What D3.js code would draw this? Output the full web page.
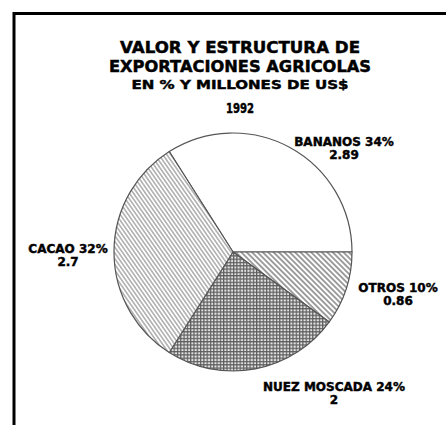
<!DOCTYPE html>
<html>

<head>
    <meta charset="utf-8">
    <script src="https://d3js.org/d3.v7.min.js"></script>
    <style>
        body {
            margin: 0;
            background: #fff;
            overflow: hidden;
        }

        svg text {
            font-family: "DejaVu Sans", sans-serif;
            font-weight: bold;
            fill: #000;
            stroke: #000;
            stroke-width: 0.45px;
        }
    </style>
</head>

<body>
    <div id="chart"></div>
    <script>
        // data
        var titleLines = ["VALOR Y ESTRUCTURA DE", "EXPORTACIONES AGRICOLAS", "EN % Y MILLONES DE US$", "1992"];
        var categories = ["BANANOS", "OTROS", "NUEZ MOSCADA", "CACAO"];
        var shares = [34, 10, 24, 32];
        var values = ["2.89", "0.86", "2", "2.7"];

        var width = 447;
        var height = 425;
        var cx = 233, cy = 252, radius = 119;

        // title layout: baseline, font size, width
        var titleStyle = [
            { y: 53, size: 15, len: 240 },
            { y: 72, size: 15, len: 262 },
            { y: 89, size: 12.5, len: 217 },
            { y: 113, size: 14, len: 28 }
        ];

        // label anchors (relative to the pie centre)
        var labelPos = [
            { dx: 111, dy: -106 },
            { dx: 165, dy: 40 },
            { dx: 101, dy: 139 },
            { dx: -165, dy: 1 }
        ];

        var fills = ["#fff", "url(#hatchOtros)", "url(#gridNuez)", "url(#hatchCacao)"];

        var svg = d3.select("#chart").append("svg")
            .attr("width", width)
            .attr("height", height);

        var defs = svg.append("defs");

        function hatch(id, gap, angle, color, sw) {
            var p = defs.append("pattern")
                .attr("id", id)
                .attr("patternUnits", "userSpaceOnUse")
                .attr("width", gap)
                .attr("height", gap)
                .attr("patternTransform", "rotate(" + angle + ")");
            p.append("rect").attr("width", gap).attr("height", gap).attr("fill", "#fff");
            p.append("line")
                .attr("x1", gap / 2).attr("y1", 0)
                .attr("x2", gap / 2).attr("y2", gap)
                .attr("stroke", color)
                .attr("stroke-width", sw);
        }

        hatch("hatchOtros", 3.8, -45, "#888", 1.6);
        hatch("hatchCacao", 3.3, -35, "#a6a6a6", 1.4);

        var grid = defs.append("pattern")
            .attr("id", "gridNuez")
            .attr("patternUnits", "userSpaceOnUse")
            .attr("width", 3.3)
            .attr("height", 3.3);
        grid.append("rect").attr("width", 3.3).attr("height", 3.3).attr("fill", "#e4e4e4");
        grid.append("path")
            .attr("d", "M0,0.6H3.3M0.6,0V3.3")
            .attr("stroke", "#5e5e5e")
            .attr("stroke-width", 1.2);

        // frame (top and left only)
        svg.append("path")
            .attr("d", "M14,425V13.5H446")
            .attr("fill", "none")
            .attr("stroke", "#000")
            .attr("stroke-width", 3);

        // title
        svg.append("g").selectAll("text")
            .data(titleLines)
            .join("text")
            .attr("x", 240)
            .attr("y", (d, i) => titleStyle[i].y)
            .attr("text-anchor", "middle")
            .attr("font-size", (d, i) => titleStyle[i].size)
            .attr("textLength", (d, i) => titleStyle[i].len)
            .attr("lengthAdjust", "spacingAndGlyphs")
            .text(d => d);

        // pie, Bananos ends at 3 o'clock
        var startA = -shares[0] / 100 * Math.PI * 2 + Math.PI / 2;
        var pie = d3.pie()
            .sort(null)
            .startAngle(startA)
            .endAngle(startA + Math.PI * 2);

        var arc = d3.arc().innerRadius(0).outerRadius(radius);

        var g = svg.append("g").attr("transform", `translate(${cx},${cy})`);

        g.selectAll("path")
            .data(pie(shares))
            .join("path")
            .attr("d", arc)
            .attr("fill", (d, i) => fills[i])
            .attr("stroke", "#555")
            .attr("stroke-width", 1.2)
            .attr("stroke-linejoin", "round");

        // labels
        var labels = g.append("g").selectAll("text")
            .data(categories)
            .join("text")
            .attr("text-anchor", "middle")
            .attr("font-size", 12);

        labels.append("tspan")
            .attr("x", (d, i) => labelPos[i].dx)
            .attr("y", (d, i) => labelPos[i].dy)
            .text((d, i) => d + " " + shares[i] + "%");

        labels.append("tspan")
            .attr("x", (d, i) => labelPos[i].dx)
            .attr("dy", 13)
            .text((d, i) => values[i]);
    </script>
</body>

</html>
